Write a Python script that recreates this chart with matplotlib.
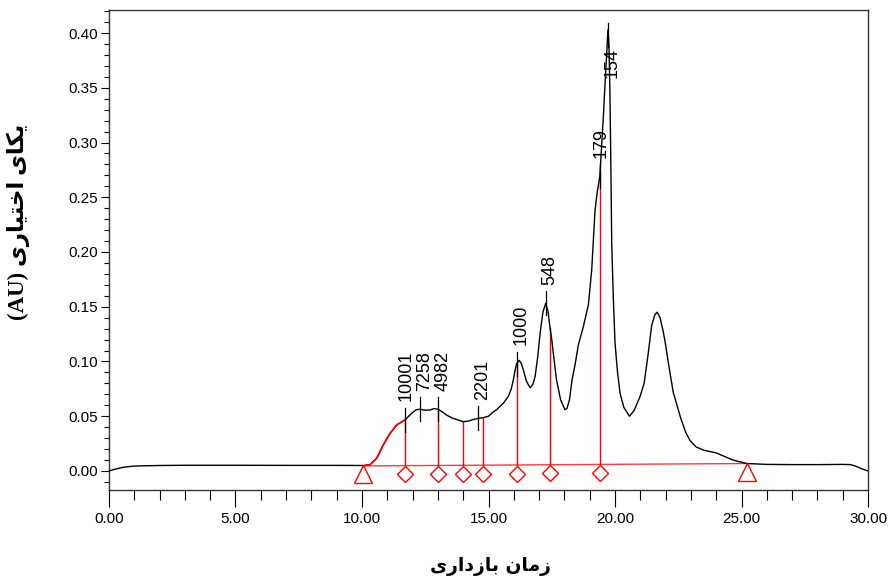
import numpy as np
import matplotlib
matplotlib.use("Agg")
import matplotlib.pyplot as plt
from matplotlib.ticker import MultipleLocator, FormatStrFormatter

# chromatogram trace (retention time in min, absorbance in AU)
time = [0.00, 0.04, 0.30, 0.60, 1.00, 2.00, 3.00, 5.00, 7.00, 9.00, 9.90,
        10.10, 10.32, 10.58, 10.84, 11.10, 11.37, 11.70, 11.96, 12.15, 12.29,
        12.50, 12.69, 12.85, 13.02, 13.20, 13.35, 13.55, 13.74, 14.00, 14.20,
        14.40, 14.60, 14.79, 15.00, 15.19, 15.32, 15.59, 15.78, 15.90, 15.98,
        16.05, 16.11, 16.22, 16.30, 16.38, 16.50, 16.64, 16.75, 16.84, 16.95,
        17.04, 17.15, 17.26, 17.35, 17.43, 17.50, 17.60, 17.69, 17.85, 18.02,
        18.10, 18.20, 18.30, 18.42, 18.55, 18.75, 18.95, 19.08, 19.21, 19.30,
        19.40, 19.54, 19.62, 19.67, 19.72, 19.76, 19.80, 19.84, 19.87, 19.93,
        20.00, 20.10, 20.20, 20.35, 20.57, 20.75, 20.99, 21.15, 21.30, 21.45,
        21.58, 21.67, 21.78, 21.90, 21.98, 22.10, 22.17, 22.30, 22.45, 22.60,
        22.80, 22.96, 23.20, 23.50, 24.00, 24.30, 24.66, 25.00, 25.20, 26.00,
        27.00, 28.00, 29.00, 29.30, 29.50, 29.75, 30.00]
absorbance = [0.0000, 0.0003, 0.0020, 0.0035, 0.0045, 0.0050, 0.0052, 0.0052, 0.0051, 0.0051, 0.0050,
              0.0050, 0.0058, 0.0116, 0.0237, 0.0340, 0.0420, 0.0466, 0.0527, 0.0560, 0.0563,
              0.0555, 0.0557, 0.0570, 0.0563, 0.0535, 0.0510, 0.0485, 0.0470, 0.0450, 0.0455,
              0.0470, 0.0480, 0.0487, 0.0500, 0.0540, 0.0560, 0.0620, 0.0680, 0.0750, 0.0830,
              0.0920, 0.0980, 0.1010, 0.0980, 0.0920, 0.0820, 0.0760, 0.0790, 0.0860, 0.1050,
              0.1260, 0.1450, 0.1530, 0.1460, 0.1310, 0.1200, 0.1000, 0.0830, 0.0650, 0.0560,
              0.0570, 0.0650, 0.0830, 0.0970, 0.1150, 0.1320, 0.1520, 0.1840, 0.2380, 0.2550,
              0.2690, 0.3240, 0.3600, 0.3800, 0.4030, 0.3900, 0.3450, 0.2700, 0.2080, 0.1600,
              0.1170, 0.0900, 0.0710, 0.0580, 0.0500, 0.0550, 0.0680, 0.0800, 0.1050, 0.1330,
              0.1430, 0.1450, 0.1400, 0.1280, 0.1180, 0.1000, 0.0900, 0.0720, 0.0600, 0.0480,
              0.0350, 0.0280, 0.0220, 0.0190, 0.0165, 0.0135, 0.0100, 0.0080, 0.0068, 0.0060,
              0.0058, 0.0058, 0.0060, 0.0058, 0.0045, 0.0020, 0.0000]

# peak labels
peak_times = [11.70, 12.29, 13.02, 14.60, 16.11, 17.26, 19.40, 19.71]
peak_labels = ["10001", "7258", "4982", "2201", "1000", "548", "179", "154"]

# integration: drop lines and baseline start/end
drop_times = [11.70, 13.02, 13.98, 14.79, 16.11, 17.43, 19.41]
base_times = [10.05, 25.20]
base_values = [0.0046, 0.0068]

# axis labels (Persian, written in shaped presentation forms, visual order)
# "زمان بازداری"
xlabel_text = ("\uFEEF\uFEAD\uFE8D\uFEA9\uFEAF\uFE8E\uFE91"
               " \uFEE5\uFE8E\uFEE3\uFEAF")
# "یکای اختیاری (AU)"
ylabel_text = ("(AU) \uFEEF\uFEAD\uFE8E\uFEF4\uFE98\uFEA7\uFE8D"
               " \uFEEF\uFE8E\uFEDC\uFEF3")

plt.rcParams["font.family"] = ["Liberation Sans", "DejaVu Sans"]

t = np.array(time)
a = np.array(absorbance)

fig = plt.figure(figsize=(8.89, 5.83), dpi=100)
ax = fig.add_axes([0.1226, 0.1595, 0.8538, 0.8233])

ax.plot(t, a, color="black", lw=1.0, zorder=3)

# red start of first peak
m = (t >= base_times[0]) & (t <= drop_times[0])
ax.plot(t[m], a[m], color="red", lw=1.2, zorder=4)

# baseline
ax.plot(base_times, base_values, color="#ff3b3b", lw=1.0, zorder=2)

# drop lines
for x in drop_times:
    y0 = np.interp(x, base_times, base_values)
    y1 = np.interp(x, t, a)
    ax.plot([x, x], [y0, y1], color="red", lw=1.0, zorder=2)

drop_base = np.interp(drop_times, base_times, base_values)
ax.plot(drop_times, drop_base - 0.0078, ls="none", marker="D", ms=8.5,
        mfc="white", mec="red", mew=1.0, zorder=5)
ax.plot(base_times, np.array(base_values) - 0.0078, ls="none", marker="^",
        ms=12.5, mfc="white", mec="red", mew=1.0, zorder=5)

# peak ticks and labels
for i, (x, lab) in enumerate(zip(peak_times, peak_labels)):
    yc = np.interp(x, t, a)
    ax.plot([x, x], [yc - 0.011, yc + 0.011], color="black", lw=0.9, zorder=4)
    # squeeze the label left a bit when the next peak is very close
    dx = 0.18
    if i + 1 < len(peak_times) and peak_times[i + 1] - x < 0.65:
        dx = 0.05
    ax.text(x + dx, min(yc + 0.017, 0.359), lab, rotation=90,
            ha="center", va="bottom", fontsize=13, zorder=6)

ax.set_xlim(0, 30)
ax.set_ylim(-0.0174, 0.421)
ax.xaxis.set_major_locator(MultipleLocator(5))
ax.xaxis.set_minor_locator(MultipleLocator(1))
ax.yaxis.set_major_locator(MultipleLocator(0.05))
ax.yaxis.set_minor_locator(MultipleLocator(0.01))
ax.xaxis.set_major_formatter(FormatStrFormatter("%.2f"))
ax.yaxis.set_major_formatter(FormatStrFormatter("%.2f"))
ax.tick_params(axis="x", which="major", length=12, width=0.8, pad=4, labelsize=11)
ax.tick_params(axis="x", which="minor", length=7, width=0.8)
ax.tick_params(axis="y", which="major", length=6, width=0.8, pad=2, labelsize=11)
ax.tick_params(axis="y", which="minor", length=3.5, width=0.8)
for sp in ax.spines.values():
    sp.set_color("#333333")
    sp.set_linewidth(1.0)

fig.text(490 / 889, 1 - 567 / 583, xlabel_text, ha="center", va="center",
         fontsize=13.5, fontweight="bold", family=["DejaVu Sans"])
fig.text(18 / 889, 1 - 222 / 583, ylabel_text, ha="center", va="center",
         rotation=90, fontsize=16.5, fontweight="bold",
         family=["Liberation Serif", "DejaVu Sans"])

fig.savefig("out.png", dpi=100)
